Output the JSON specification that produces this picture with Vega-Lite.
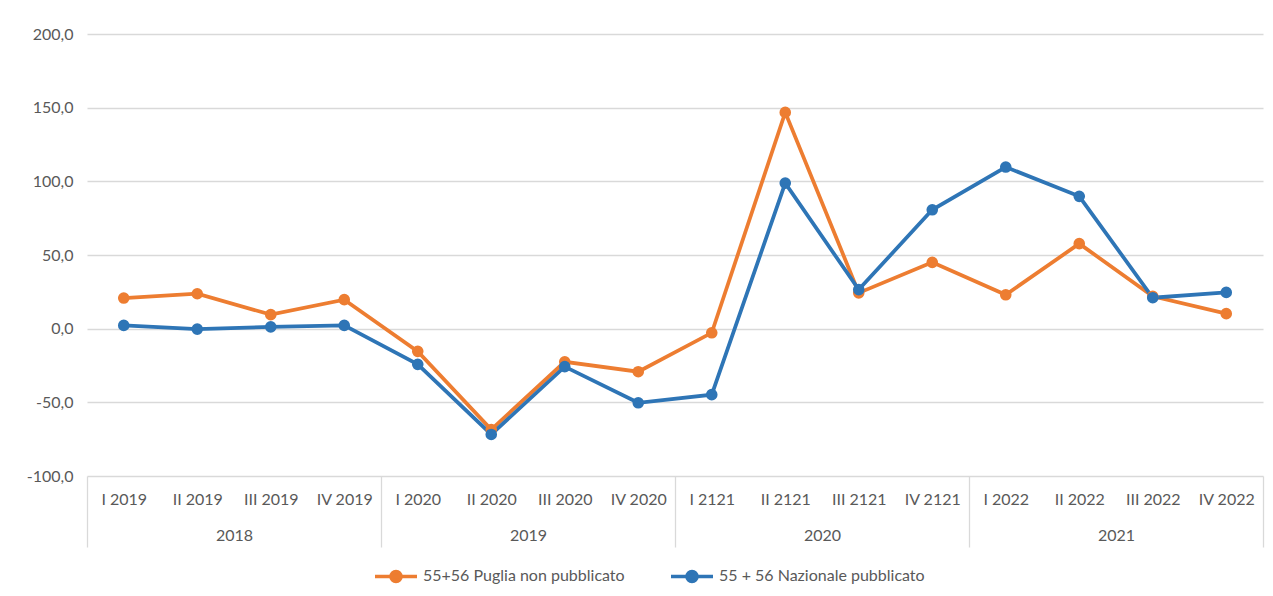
{
  "$schema": "https://vega.github.io/schema/vega-lite/v6.json",
  "width": 1176,
  "height": 442,
  "autosize": {"type": "none"},
  "padding": {"left": 87, "top": 34, "right": 10, "bottom": 120},
  "background": "white",
  "config": {
    "font": "Lato",
    "view": {"stroke": null},
    "axis": {"labelFont": "Lato", "labelColor": "#595959", "labelFontSize": 16},
    "legend": {"labelFont": "Lato", "labelColor": "#595959", "labelFontSize": 16}
  },
  "layer": [
    {
      "data": {
        "values": [
          {"q": "I 2019", "serie": "55+56 Puglia non pubblicato", "v": 20.8},
          {"q": "II 2019", "serie": "55+56 Puglia non pubblicato", "v": 23.7},
          {"q": "III 2019", "serie": "55+56 Puglia non pubblicato", "v": 9.5},
          {"q": "IV 2019", "serie": "55+56 Puglia non pubblicato", "v": 19.7},
          {"q": "I 2020", "serie": "55+56 Puglia non pubblicato", "v": -15.4},
          {"q": "II 2020", "serie": "55+56 Puglia non pubblicato", "v": -68.5},
          {"q": "III 2020", "serie": "55+56 Puglia non pubblicato", "v": -22.5},
          {"q": "IV 2020", "serie": "55+56 Puglia non pubblicato", "v": -29.2},
          {"q": "I 2121", "serie": "55+56 Puglia non pubblicato", "v": -2.8},
          {"q": "II 2121", "serie": "55+56 Puglia non pubblicato", "v": 146.8},
          {"q": "III 2121", "serie": "55+56 Puglia non pubblicato", "v": 24.3},
          {"q": "IV 2121", "serie": "55+56 Puglia non pubblicato", "v": 45.0},
          {"q": "I 2022", "serie": "55+56 Puglia non pubblicato", "v": 23.0},
          {"q": "II 2022", "serie": "55+56 Puglia non pubblicato", "v": 57.7},
          {"q": "III 2022", "serie": "55+56 Puglia non pubblicato", "v": 22.0},
          {"q": "IV 2022", "serie": "55+56 Puglia non pubblicato", "v": 10.2},
          {"q": "I 2019", "serie": "55 + 56 Nazionale pubblicato", "v": 2.2},
          {"q": "II 2019", "serie": "55 + 56 Nazionale pubblicato", "v": -0.3},
          {"q": "III 2019", "serie": "55 + 56 Nazionale pubblicato", "v": 1.2},
          {"q": "IV 2019", "serie": "55 + 56 Nazionale pubblicato", "v": 2.2},
          {"q": "I 2020", "serie": "55 + 56 Nazionale pubblicato", "v": -24.2},
          {"q": "II 2020", "serie": "55 + 56 Nazionale pubblicato", "v": -71.8},
          {"q": "III 2020", "serie": "55 + 56 Nazionale pubblicato", "v": -25.8},
          {"q": "IV 2020", "serie": "55 + 56 Nazionale pubblicato", "v": -50.3},
          {"q": "I 2121", "serie": "55 + 56 Nazionale pubblicato", "v": -44.8},
          {"q": "II 2121", "serie": "55 + 56 Nazionale pubblicato", "v": 98.8},
          {"q": "III 2121", "serie": "55 + 56 Nazionale pubblicato", "v": 26.5},
          {"q": "IV 2121", "serie": "55 + 56 Nazionale pubblicato", "v": 80.7},
          {"q": "I 2022", "serie": "55 + 56 Nazionale pubblicato", "v": 109.7},
          {"q": "II 2022", "serie": "55 + 56 Nazionale pubblicato", "v": 89.8},
          {"q": "III 2022", "serie": "55 + 56 Nazionale pubblicato", "v": 21.0},
          {"q": "IV 2022", "serie": "55 + 56 Nazionale pubblicato", "v": 24.6}
        ]
      },
      "encoding": {
        "x": {
          "field": "q",
          "type": "nominal",
          "sort": null,
          "scale": {"type": "point", "padding": 0.5},
          "axis": {
            "orient": "bottom",
            "title": null,
            "labelAngle": 0,
            "ticks": false,
            "domain": false,
            "labelPadding": 15,
            "offset": 0
          }
        },
        "y": {
          "field": "v",
          "type": "quantitative",
          "scale": {"domain": [-100, 200], "nice": false, "zero": false},
          "axis": {
            "title": null,
            "values": [-100, -50, 0, 50, 100, 150, 200],
            "labelExpr": "replace(replace(format(datum.value, '.1f'), '.', ','), '\u2212', '-')",
            "ticks": false,
            "domain": false,
            "labelPadding": 14,
            "gridColor": "#D9D9D9",
            "gridWidth": 1.3
          }
        },
        "color": {
          "field": "serie",
          "type": "nominal",
          "sort": ["55+56 Puglia non pubblicato", "55 + 56 Nazionale pubblicato"],
          "scale": {
            "domain": ["55+56 Puglia non pubblicato", "55 + 56 Nazionale pubblicato"],
            "range": ["#ED7D31", "#2E75B6"]
          },
          "legend": {
            "title": null,
            "orient": "none",
            "direction": "horizontal",
            "legendX": 286,
            "legendY": 519,
            "padding": 0,
            "labelLimit": 0,
            "symbolType": "M-1,0H1M-0.24,0A0.24,0.24 0 1,1 0.24,0A0.24,0.24 0 1,1 -0.24,0Z",
            "symbolSize": 1764,
            "symbolStrokeWidth": 3.5,
            "labelOffset": 4,
            "columnPadding": 39
          }
        }
      },
      "layer": [
        {"mark": {"type": "line", "strokeWidth": 3.75}},
        {"mark": {"type": "point", "filled": true, "opacity": 1, "size": 135}}
      ]
    },
    {
      "data": {
        "values": [
          {"anno": "2018"},
          {"anno": "2019"},
          {"anno": "2020"},
          {"anno": "2021"}
        ]
      },
      "mark": {"type": "text", "text": "", "opacity": 0},
      "encoding": {
        "x": {
          "field": "anno",
          "type": "nominal",
          "sort": null,
          "scale": {"type": "band", "paddingInner": 0, "paddingOuter": 0},
          "axis": {
            "orient": "bottom",
            "title": null,
            "labelAngle": 0,
            "domain": false,
            "ticks": true,
            "tickBand": "extent",
            "tickSize": 71,
            "tickColor": "#D9D9D9",
            "tickWidth": 1.3,
            "labelPadding": -20,
            "offset": 0
          }
        }
      }
    }
  ],
  "resolve": {"scale": {"x": "independent"}, "axis": {"x": "independent"}}
}
